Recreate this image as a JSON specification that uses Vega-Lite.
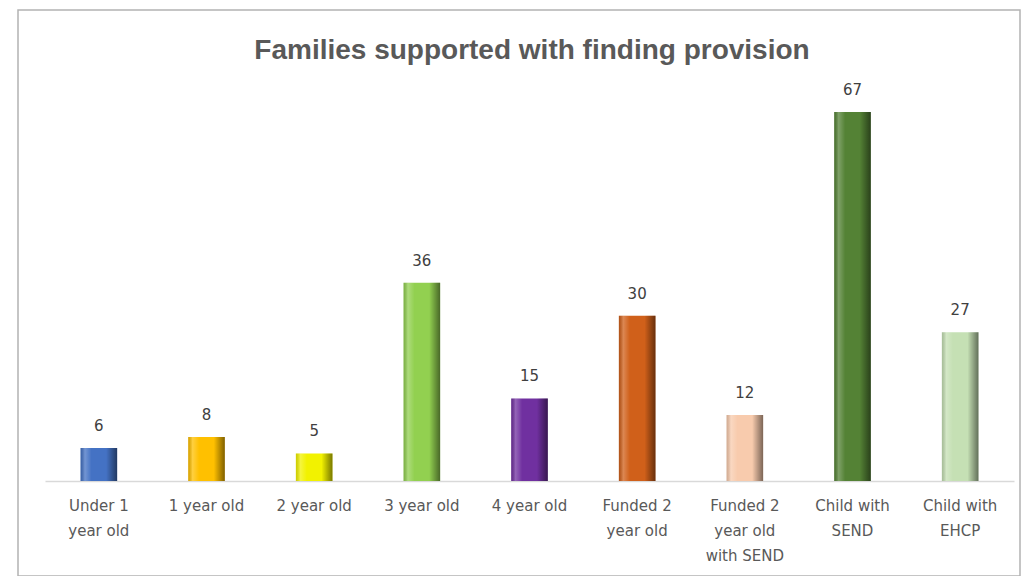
{
  "$schema": "https://vega.github.io/schema/vega-lite/v6.json",
  "width": 1002,
  "height": 566,
  "autosize": {"type": "none"},
  "padding": {"left": 18, "top": 10, "right": 3, "bottom": 0},
  "background": "white",
  "config": {"view": {"stroke": "#b3b3b3", "strokeWidth": 1.5}},
  "title": {
    "text": "Families supported with finding provision",
    "font": "Liberation Sans",
    "fontSize": 28,
    "fontWeight": "bold",
    "color": "#595959",
    "anchor": "middle",
    "dx": 13,
    "offset": -55
  },
  "data": {
    "values": [
      {"category": "Under 1\nyear old", "value": 6},
      {"category": "1 year old", "value": 8},
      {"category": "2 year old", "value": 5},
      {"category": "3 year old", "value": 36},
      {"category": "4 year old", "value": 15},
      {"category": "Funded 2\nyear old", "value": 30},
      {"category": "Funded 2\nyear old\nwith SEND", "value": 12},
      {"category": "Child with\nSEND", "value": 67},
      {"category": "Child with\nEHCP", "value": 27}
    ]
  },
  "encoding": {
    "x": {
      "field": "category",
      "type": "nominal",
      "sort": null,
      "scale": {"range": [27, 996], "paddingInner": 0.66, "paddingOuter": 0.33},
      "axis": {
        "title": null,
        "orient": "bottom",
        "offset": -95,
        "labelAngle": 0,
        "ticks": false,
        "domainColor": "#d9d9d9",
        "domainWidth": 1.5,
        "labelFont": "DejaVu Sans",
        "labelFontSize": 15,
        "labelColor": "#595959",
        "labelPadding": 17,
        "labelLineHeight": 25,
        "labelExpr": "split(datum.label, '\\n')"
      }
    },
    "y": {
      "field": "value",
      "type": "quantitative",
      "scale": {"domain": [0, 67], "range": [471, 102], "nice": false, "zero": true},
      "axis": null
    }
  },
  "layer": [
    {
      "mark": {"type": "bar"},
      "encoding": {
        "color": {
          "field": "category",
          "type": "nominal",
          "sort": null,
          "legend": null,
          "scale": {
            "range": ["#4472C4", "#FFC000", "#F2F200", "#92D050", "#7030A0", "#D0601A", "#F8CBAD", "#548235", "#C5E0B4"]
          }
        }
      }
    },
    {
      "mark": {
        "type": "bar",
        "color": {
          "gradient": "linear",
          "x1": 0, "x2": 1, "y1": 0, "y2": 0,
          "stops": [
            {"offset": 0, "color": "rgba(0,0,0,0.15)"},
            {"offset": 0.12, "color": "rgba(255,255,255,0.25)"},
            {"offset": 0.3, "color": "rgba(255,255,255,0)"},
            {"offset": 0.7, "color": "rgba(0,0,0,0)"},
            {"offset": 0.88, "color": "rgba(0,0,0,0.3)"},
            {"offset": 1, "color": "rgba(0,0,0,0.5)"}
          ]
        }
      }
    },
    {
      "mark": {"type": "text", "baseline": "bottom", "dy": -14, "font": "DejaVu Sans", "fontSize": 15, "color": "#404040"},
      "encoding": {"text": {"field": "value", "type": "quantitative"}}
    }
  ]
}
